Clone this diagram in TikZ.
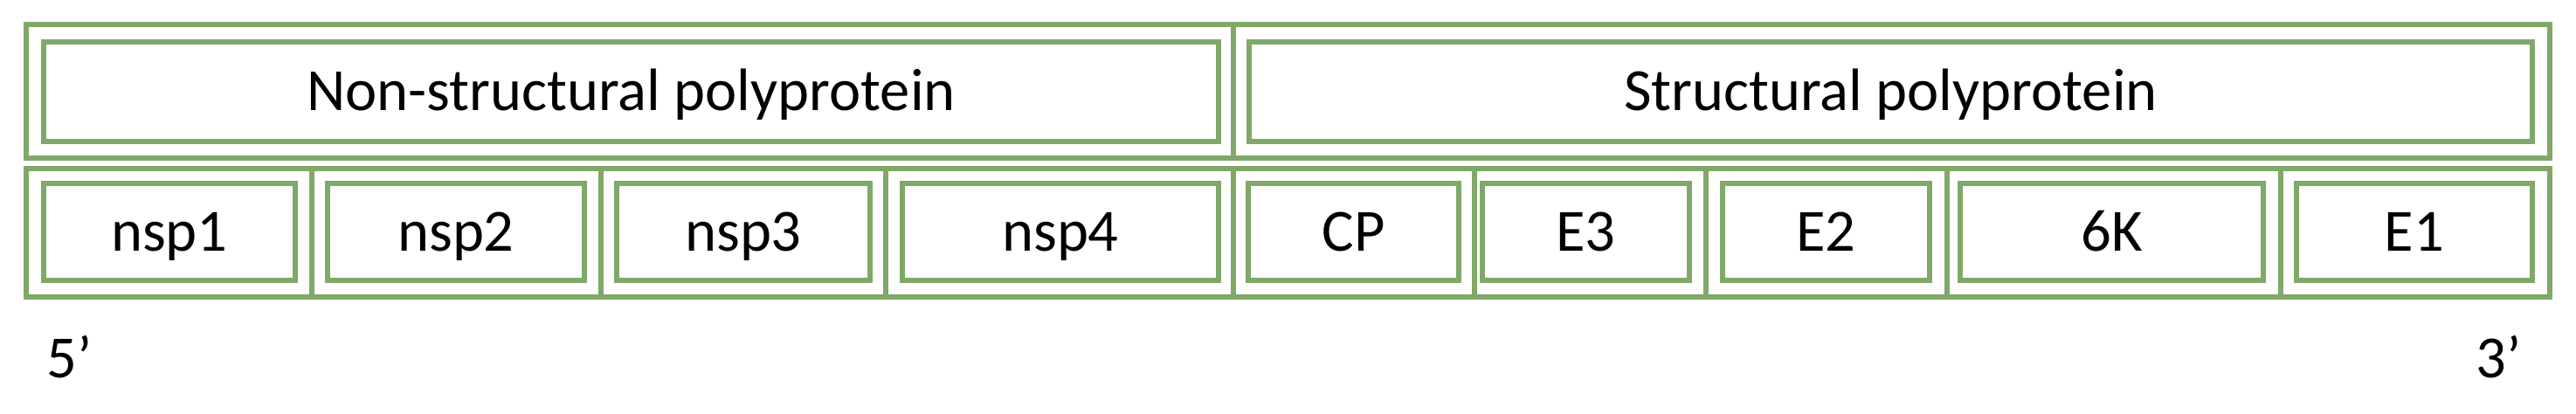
\documentclass[tikz,border=0pt]{standalone}
\usepackage{fontspec}
\setmainfont{Carlito}
\definecolor{boxgreen}{RGB}{128,168,104}

\begin{document}
\begin{tikzpicture}[
    cell/.style={draw=boxgreen, line width=1.6pt, rectangle, inner sep=0pt},
    prot/.style={draw=boxgreen, line width=1.6pt, rectangle, inner sep=0pt,
        font=\fontsize{19.5}{23}\selectfont, text height=0.44cm, text depth=0pt},
    endlabel/.style={font=\fontsize{19.5}{23}\selectfont, inner sep=0pt}
]

    % Page size
    \useasboundingbox (0,0) rectangle (29.49,4.74);

    % Top row: the two polyproteins
    \foreach \name/\lab/\a/\b/\c/\d in {ns/Non-structural polyprotein/0.30/14.12/0.50/13.95,
                                        st/Structural polyprotein/14.12/29.19/14.30/28.99} {
        \pgfmathsetmacro{\cw}{\b-\a}
        \pgfmathsetmacro{\iw}{\d-\c}
        \node[cell, minimum width=\cw cm, minimum height=1.53cm] (c\name) at ({(\a+\b)/2}, 3.695) {};
        \node[prot, minimum width=\iw cm, minimum height=1.14cm] (\name) at ({(\c+\d)/2}, 3.69) {\lab};
    }

    % Bottom row: the single proteins
    \foreach \name/\lab/\a/\b/\c/\d in {nsp1/nsp1/0.30/3.57/0.50/3.38,
                                        nsp2/nsp2/3.57/6.88/3.75/6.69,
                                        nsp3/nsp3/6.88/10.14/7.06/9.96,
                                        nsp4/nsp4/10.14/14.12/10.33/13.95,
                                        cp/CP/14.12/16.88/14.29/16.70,
                                        e3/E3/16.88/19.53/16.97/19.34,
                                        e2/E2/19.53/22.29/19.72/22.09,
                                        sixk/6K/22.29/26.11/22.44/25.91,
                                        e1/E1/26.11/29.19/26.29/28.99} {
        \pgfmathsetmacro{\cw}{\b-\a}
        \pgfmathsetmacro{\iw}{\d-\c}
        \node[cell, minimum width=\cw cm, minimum height=1.47cm] (c\name) at ({(\a+\b)/2}, 2.075) {};
        \node[prot, minimum width=\iw cm, minimum height=1.11cm] (\name) at ({(\c+\d)/2}, 2.085) {\lab};
    }

    % Ends of the genome
    \node[endlabel, anchor=base west] (five) at (0.53, 0.41) {5’};
    \node[endlabel, anchor=base east] (three) at (28.87, 0.41) {3’};

\end{tikzpicture}
\end{document}
